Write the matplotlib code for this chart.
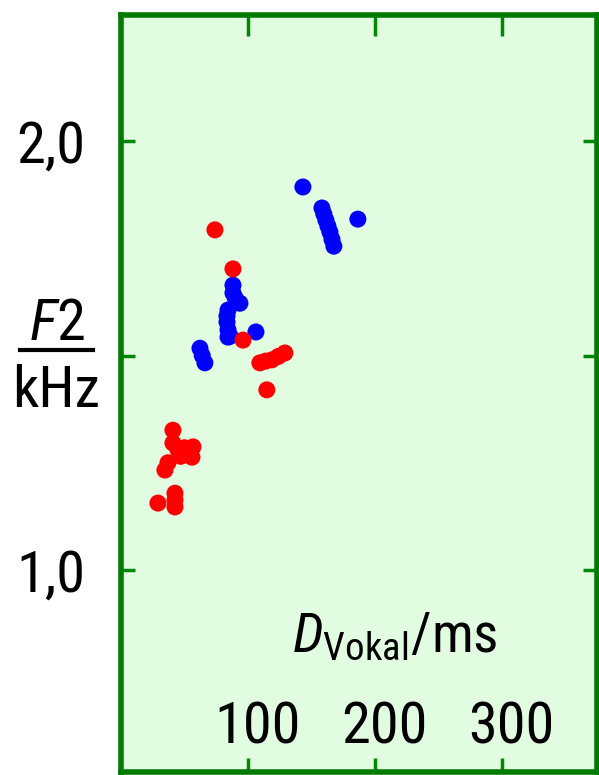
import matplotlib.pyplot as plt
import matplotlib.transforms as mtransforms
from matplotlib import font_manager
from matplotlib.lines import Line2D

# F2 vs vowel duration
blue_x = [143.3, 158.3, 159.8, 161.4, 163.0, 164.6, 166.2, 167.7, 186.6,
          88.2, 88.2, 90.0, 93.7, 84.3, 83.5, 83.5, 84.3, 84.3, 86.0, 106.3,
          62.2, 64.0, 66.1]
blue_y = [1.893, 1.844, 1.830, 1.816, 1.802, 1.788, 1.771, 1.755, 1.818,
          1.664, 1.646, 1.634, 1.622, 1.606, 1.592, 1.578, 1.560, 1.543, 1.545, 1.555,
          1.517, 1.500, 1.483]
red_x = [74.0, 88.2, 96.1, 109.4, 114.0, 118.9, 124.0, 129.1, 114.9,
         40.9, 40.9, 44.9, 50.0, 56.7, 55.9, 37.0, 34.6, 47.0,
         42.5, 42.5, 42.5, 29.1]
red_y = [1.793, 1.702, 1.536, 1.483, 1.487, 1.490, 1.498, 1.506, 1.420,
         1.326, 1.296, 1.280, 1.285, 1.287, 1.263, 1.250, 1.233, 1.265,
         1.179, 1.163, 1.147, 1.156]

y_ticks = [1.0, 1.5, 2.0]
y_labels = ['1,0', '', '2,0']
x_ticks = [100, 200, 300]
x_labels = ['100', '200', '300']

names = {f.name for f in font_manager.fontManager.ttflist}
fam = 'Liberation Sans'
for cand in ['Liberation Sans Narrow', 'Arial Narrow', 'Roboto Condensed', 'Archivo Narrow']:
    if cand in names:
        fam = cand
        break
plt.rcParams['font.family'] = [fam, 'DejaVu Sans']
plt.rcParams['mathtext.fontset'] = 'custom'
plt.rcParams['mathtext.rm'] = fam
plt.rcParams['mathtext.it'] = fam + ':italic'

green = '#007a00'
fs = 42

fig = plt.figure(figsize=(5.99, 7.75), dpi=100)
ax = fig.add_axes([121 / 599, 3 / 775, 476 / 599, 757 / 775])
ax.set_facecolor('#e2fce2')
for sp in ax.spines.values():
    sp.set_color(green)
    sp.set_linewidth(4)

ax.scatter(blue_x, blue_y, s=150, c='#0000ff', edgecolors='none', zorder=3)
ax.scatter(red_x, red_y, s=150, c='#ff0000', edgecolors='none', zorder=4)

ax.set_xlim(0, 375)
ax.set_ylim(0.529, 2.294)

ax.set_xticks(x_ticks)
ax.tick_params(axis='x', direction='in', top=True, bottom=True,
               labelbottom=False, width=2.5, color='#008800')
for t in ax.xaxis.get_major_ticks():
    t.tick1line.set_markersize(10)
    t.tick2line.set_markersize(15)

ax.set_yticks(y_ticks)
ax.set_yticklabels(y_labels)
ax.tick_params(axis='y', direction='in', left=True, right=True, length=10,
               width=2.5, color='#008800', labelsize=fs, pad=26)

# x tick labels sit inside the box
off = mtransforms.offset_copy(ax.get_xaxis_transform(), fig=fig, x=10, y=0, units='dots')
for v, lab in zip(x_ticks, x_labels):
    ax.text(v, 29 / 757, lab, transform=off, ha='center', va='baseline', fontsize=fs)

# axis titles
fig.text(395 / 599, 1 - 652 / 775, r'$D_{\mathrm{Vokal}}$/ms', ha='center',
         va='baseline', fontsize=40)
fig.text(57 / 599, 1 - 340 / 775, r'$F$2', ha='center', va='baseline', fontsize=fs)
fig.text(56 / 599, 1 - 407 / 775, 'kHz', ha='center', va='baseline', fontsize=fs)
fig.add_artist(Line2D([20 / 599, 93 / 599], [1 - 350 / 775, 1 - 350 / 775],
                      transform=fig.transFigure, color='black', linewidth=3))

fig.savefig('out.png', dpi=100)
